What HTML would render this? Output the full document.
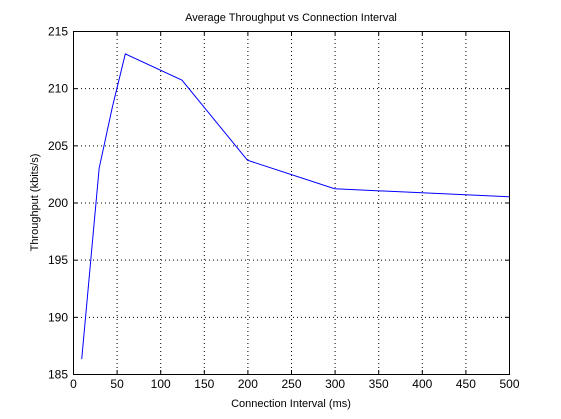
<!DOCTYPE html>
<html><head><meta charset="utf-8"><style>
body{margin:0;background:#fff;}
svg{display:block;font-family:"Liberation Sans",sans-serif;}
</style></head><body>
<svg id="chart" width="561" height="419"></svg>
<script>
const xValues=[10,30,45,60,125,200,300,500];
const yValues=[186.3,203,208.3,213,210.7,203.7,201.2,200.5];
const xTicks=[0,50,100,150,200,250,300,350,400,450,500];
const yTicks=[185,190,195,200,205,210,215];
const L=73,R=509,T=31,B=374;
const xs=v=>L+(v-0)/(500-0)*(R-L);
const ys=v=>B-(v-185)/(215-185)*(B-T);
const svg=document.getElementById('chart');
const NS='http://www.w3.org/2000/svg';
function mk(tag,attrs,parent){const e=document.createElementNS(NS,tag);for(const k in attrs)e.setAttribute(k,attrs[k]);(parent||svg).appendChild(e);return e;}
const grid=mk('g',{});


xTicks.forEach(t=>{const x=xs(t)+0.5;
 if(t>0&&t<500){const g=mk('line',{x1:x,x2:x,y1:T,y2:B,stroke:'#000','stroke-dasharray':'1,3','stroke-width':1},grid);}
 const tk=mk('line',{x1:x,x2:x,y1:B,y2:B-4,stroke:'#000'});
 const tk2=mk('line',{x1:x,x2:x,y1:T,y2:T+4,stroke:'#000'});
 const lb=mk('text',{x:x,y:B+14,'font-size':12,'text-anchor':'middle'});lb.textContent=t;
});
yTicks.forEach(t=>{const y=ys(t)+0.5;
 if(t>185&&t<215){const g=mk('line',{x1:L,x2:R,y1:y,y2:y,stroke:'#000','stroke-dasharray':'1,3','stroke-width':1},grid);}
 const tk=mk('line',{x1:L,x2:L+4,y1:y,y2:y,stroke:'#000'});
 const tk2=mk('line',{x1:R-4,x2:R,y1:y,y2:y,stroke:'#000'});
 const lb=mk('text',{x:L-5,y:y+4,'font-size':12,'text-anchor':'end'});lb.textContent=t;
});
const box=mk('rect',{x:L+0.5,y:T+0.5,width:R-L,height:B-T,fill:'none',stroke:'#000'});


const line=mk('polyline',{points:xValues.map((v,i)=>xs(v)+','+ys(yValues[i])).join(' '),fill:'none',stroke:'#0000ff','stroke-width':1});


const title=mk('text',{x:(L+R)/2,y:21,'font-size':11,'text-anchor':'middle'});
title.textContent='Average Throughput vs Connection Interval';


const xt=mk('text',{x:(L+R)/2,y:407,'font-size':11,'text-anchor':'middle'});
xt.textContent='Connection Interval (ms)';


const yt=mk('text',{x:0,y:0,'font-size':11,'text-anchor':'middle',transform:'translate(38,'+((T+B)/2)+') rotate(-90)'});
yt.textContent='Throughput (kbits/s)';


</script>
</body></html>
